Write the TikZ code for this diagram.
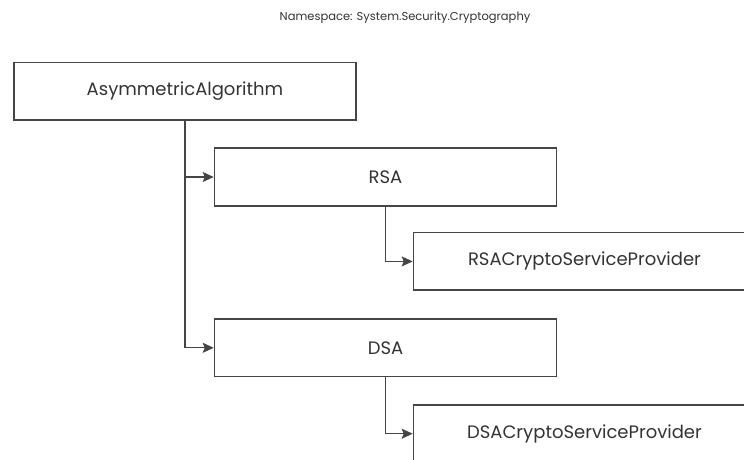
\documentclass[tikz,border=0pt]{standalone}
\usepackage{fontspec}
\setmainfont{Poppins}
\usetikzlibrary{arrows.meta}
\definecolor{linegray}{gray}{0.27}
\definecolor{textgray}{gray}{0.2}
\tikzset{
  classbox/.style = {draw = linegray, line width = 1.6pt, minimum width = 342pt, minimum height = 57.5pt, inner sep = 0pt, text = textgray, font = \fontsize{18}{22}\selectfont},
  inherit/.style = {draw = linegray, line width = 1.3pt, -{Stealth[length = 11pt, width = 10pt, inset = 2pt]}}
}
\begin{document}
\begin{tikzpicture}[x = 1pt, y = -1pt]
\useasboundingbox (0,0) rectangle (744,459);
\clip (0,0) rectangle (744,459);
\node[text = textgray, font = \fontsize{11.5}{14}\selectfont] (ns) at (405,18) {Namespace: System.Security.Cryptography};
\node[classbox] (asym) at (185,91.3) {AsymmetricAlgorithm};
\node[classbox] (rsa) at (385.5,177) {RSA};
\node[classbox] (rsacsp) at (584.5,261.4) {RSACryptoServiceProvider};
\node[classbox] (dsa) at (385.5,347.8) {DSA};
\node[classbox] (dsacsp) at (584.5,433.7) {DSACryptoServiceProvider};
\foreach \parent/\child in {asym/rsa, asym/dsa, rsa/rsacsp, dsa/dsacsp}
  \draw[inherit] (\parent.south) |- (\child.west);
\end{tikzpicture}
\end{document}
